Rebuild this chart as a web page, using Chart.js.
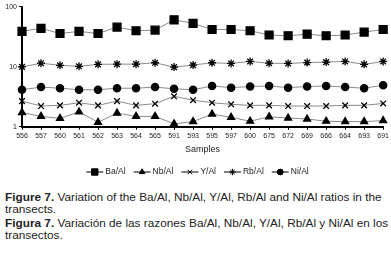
<!DOCTYPE html>
<html>
<head>
<meta charset="utf-8">
<script src="https://cdn.jsdelivr.net/npm/chart.js@4/dist/chart.umd.min.js"></script>
<style>
  body { margin: 0; background: #fff; width: 391px; height: 258px; overflow: hidden; font-family: "Liberation Sans", Arial, sans-serif; }
  #wrap { position: absolute; left: 0; top: 0; width: 391px; height: 182px; }
  #caption { position: absolute; left: 5px; top: 191px; font-size: 11.8px; line-height: 12px; color: #222; white-space: nowrap; }
  #caption p { margin: 0 0 2px 0; }
</style>
</head>
<body>
<div id="wrap"><canvas id="chart"></canvas></div>
<div id="caption">
  <p><b>Figure 7.</b> Variation of the Ba/Al, Nb/Al, Y/Al, Rb/Al and Ni/Al ratios in the<br>transects.</p>
  <p><b>Figura 7.</b> Variación de las razones Ba/Al, Nb/Al, Y/Al, Rb/Al y Ni/Al en los<br>transectos.</p>
</div>
<script>
// Samples along the transects
const samples = ['556', '557', '560', '561', '562', '563', '564', '565', '591', '593',
                 '595', '597', '600', '675', '672', '669', '666', '664', '693', '691'];

const baAl = [39, 44, 36, 39, 36, 46, 40, 41, 61, 53, 42, 42, 40, 34, 33, 35, 33, 34, 38, 42];
const nbAl = [1.73, 1.49, 1.38, 1.77, 1.19, 1.69, 1.49, 1.49, 1.12, 1.22, 1.63, 1.44, 1.24, 1.47, 1.40, 1.35, 1.24, 1.22, 1.22, 1.27];
const yAl = [2.68, 2.22, 2.28, 2.52, 2.28, 2.68, 2.28, 2.43, 3.23, 2.78, 2.52, 2.37, 2.28, 2.28, 2.22, 2.22, 2.22, 2.28, 2.28, 2.45];
const rbAl = [10, 11.5, 10.6, 10.2, 11, 11.1, 11.1, 11.7, 9.9, 10.7, 11.7, 11.4, 12.3, 11.5, 11.4, 11.8, 12, 12.3, 11, 12.3];
const niAl = [4.15, 4.6, 4.4, 4.15, 4.15, 4.4, 4.4, 4.6, 4.3, 4.15, 4.8, 4.5, 4.7, 4.8, 4.5, 4.7, 4.8, 4.6, 4.4, 4.95];

const yTicks = [1, 10, 100];

function series(label, data, style, radius) {
    return {
        label: label,
        data: data,
        borderColor: '#8a8a8a',
        borderWidth: 1,
        pointStyle: style,
        pointRadius: radius,
        pointHoverRadius: radius,
        pointBackgroundColor: '#000',
        pointBorderColor: '#000',
        pointBorderWidth: 1.3,
        tension: 0
    };
}

// legend drawn as line - marker - line, like the original figure
const lineLegend = {
    id: 'lineLegend',
    afterDraw(chart) {
        const ctx = chart.ctx;
        const y = 172;
        const seg = 17;
        ctx.save();
        ctx.font = '8.5px "Liberation Sans", Arial, sans-serif';
        ctx.textBaseline = 'middle';
        const items = chart.data.datasets.map(ds => ({ ds: ds, w: seg + 2 + ctx.measureText(ds.label).width }));
        const gap = 8;
        const total = items.reduce((s, it) => s + it.w, 0) + gap * (items.length - 1);
        let x = chart.width / 2 - total / 2 + 2;
        items.forEach(it => {
            ctx.strokeStyle = '#000';
            ctx.lineWidth = 1;
            ctx.beginPath();
            ctx.moveTo(x, y);
            ctx.lineTo(x + seg, y);
            ctx.stroke();
            Chart.helpers.drawPoint(ctx, {
                pointStyle: it.ds.pointStyle,
                radius: it.ds.pointRadius * 0.8,
                borderWidth: 1
            }, x + seg / 2, y);
            ctx.fillStyle = '#000';
            ctx.fill();
            ctx.fillStyle = '#222';
            ctx.fillText(it.ds.label, x + seg + 2, y);
            x += it.w + gap;
        });
        ctx.restore();
    }
};

const ctx = document.getElementById('chart').getContext('2d');
const chart = new Chart(ctx, {
    type: 'line',
    data: {
        labels: samples,
        datasets: [
            series('Ba/Al', baAl, 'rect', 5.6),
            series('Nb/Al', nbAl, 'triangle', 4),
            series('Y/Al', yAl, 'crossRot', 4),
            series('Rb/Al', rbAl, 'star', 4),
            series('Ni/Al', niAl, 'circle', 3.6)
        ]
    },
    options: {
        responsive: true,
        maintainAspectRatio: false,
        animation: false,
        layout: { padding: { top: 2, right: 6, bottom: 27, left: 0 } },
        plugins: {
            legend: { display: false },
            tooltip: { enabled: false }
        },
        scales: {
            x: {
                offset: false,
                grid: { drawOnChartArea: false, drawTicks: true, tickLength: 3, color: '#000' },
                border: { color: '#000', width: 2 },
                ticks: { color: '#222', font: { size: 7, family: '"Liberation Sans", Arial, sans-serif' }, maxRotation: 0, autoSkip: false, padding: 2 },
                title: { display: true, text: 'Samples', color: '#222', font: { size: 9, family: '"Liberation Sans", Arial, sans-serif' }, padding: { top: 2, bottom: 0 } }
            },
            y: {
                type: 'logarithmic',
                min: 1,
                max: 100,
                afterBuildTicks: scale => { scale.ticks = yTicks.map(v => ({ value: v })); },
                afterFit: scale => { scale.width = 22; },
                grid: { drawOnChartArea: false, drawTicks: true, tickLength: 3, color: '#000' },
                border: { color: '#000', width: 2 },
                ticks: { color: '#222', font: { size: 7, family: '"Liberation Sans", Arial, sans-serif' }, padding: 2, callback: v => String(v) }
            }
        }
    },
    plugins: [lineLegend]
});
</script>
</body>
</html>
